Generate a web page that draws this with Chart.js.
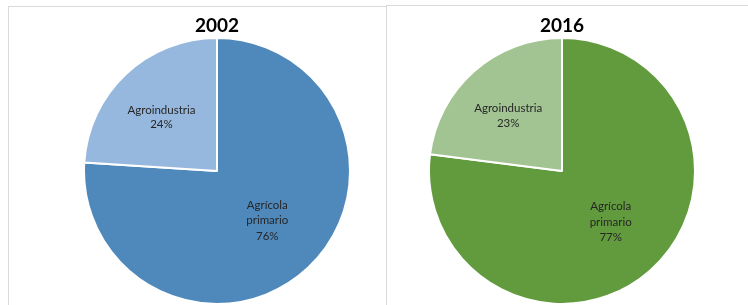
<!DOCTYPE html>
<html>
<head>
<meta charset="utf-8">
<script src="https://cdn.jsdelivr.net/npm/chart.js@4.4.1/dist/chart.umd.min.js"></script>
<style>
  body { margin: 0; background: #fff; width: 748px; height: 305px; overflow: hidden; position: relative; }
  .frame { position: absolute; border: 1px solid #d9d9d9; box-sizing: border-box; }
  #f1 { left: 8px; top: 6px; width: 390px; height: 320px; }
  #f2 { left: 386px; top: 5px; width: 380px; height: 320px; background: #fff; }
  .box { position: absolute; top: 0; height: 305px; }
  #b1 { left: 0; width: 386px; }
  #b2 { left: 386px; width: 362px; }
</style>
</head>
<body>
<div class="frame" id="f1"></div>
<div class="frame" id="f2"></div>
<div class="box" id="b1"><canvas id="pie2002"></canvas></div>
<div class="box" id="b2"><canvas id="pie2016"></canvas></div>
<script>
var categories = ['Agrícola primario', 'Agroindustria'];
var labelLines = [['Agrícola', 'primario'], ['Agroindustria']];
var values2002 = [76, 24];
var values2016 = [77, 23];

// draws "name / xx%" labels inside each slice, like the Excel data labels
var pieLabels = {
    id: 'pieLabels',
    afterDatasetsDraw: function(chart) {
        var ctx = chart.ctx;
        var meta = chart.getDatasetMeta(0);
        var data = chart.data.datasets[0].data;
        var total = data.reduce(function(a, b) { return a + b; }, 0);
        var factors = [0.53, 0.58];
        var shift = [-0.04, -0.05]; // small angular nudge (radians)
        ctx.save();
        ctx.font = '11.5px Lato';
        ctx.fillStyle = '#262626';
        ctx.textAlign = 'center';
        ctx.textBaseline = 'middle';
        meta.data.forEach(function(arc, i) {
            var p = arc.getProps(['x', 'y', 'startAngle', 'endAngle', 'outerRadius'], true);
            var mid = (p.startAngle + p.endAngle) / 2 + shift[i];
            var r = p.outerRadius * factors[i];
            var cx = p.x + Math.cos(mid) * r;
            var cy = p.y + Math.sin(mid) * r;
            var lines = labelLines[i].concat([Math.round(data[i] / total * 100) + '%']);
            var lh = lines.length > 2 ? 15.5 : 14.5;
            var y0 = cy - (lines.length - 1) * lh / 2;
            lines.forEach(function(t, k) {
                ctx.fillText(t, cx, y0 + k * lh);
            });
        });
        ctx.restore();
    }
};

function makePie(id, title, values, colors, pad) {
    return new Chart(document.getElementById(id).getContext('2d'), {
        type: 'pie',
        data: {
            labels: categories,
            datasets: [{
                data: values,
                backgroundColor: colors,
                borderColor: '#ffffff',
                borderWidth: 2
            }]
        },
        options: {
            responsive: true,
            maintainAspectRatio: false,
            animation: false,
            layout: { padding: pad },
            plugins: {
                legend: { display: false },
                tooltip: { enabled: false },
                title: {
                    display: true,
                    text: title,
                    color: '#000000',
                    font: { family: 'Lato', size: 19, weight: 'bold', lineHeight: 1.2 },
                    padding: { top: 0, bottom: 0 }
                }
            }
        },
        plugins: [pieLabels]
    });
}

makePie('pie2002', '2002', values2002, ['#4f89bc', '#97b8de'], { top: 14, left: 83, right: 35, bottom: 0 });
makePie('pie2016', '2016', values2016, ['#629b3e', '#a2c493'], { top: 14, left: 42, right: 52, bottom: 0 });
</script>
</body>
</html>
